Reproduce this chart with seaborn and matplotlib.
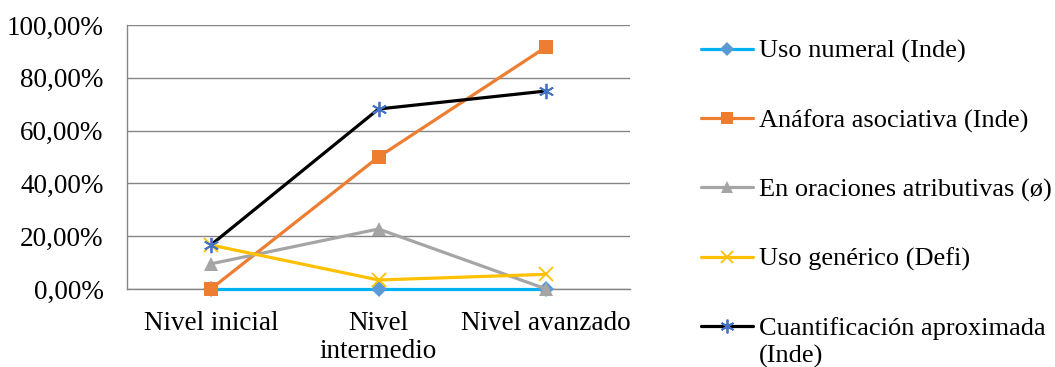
import matplotlib
matplotlib.use("Agg")
import matplotlib.pyplot as plt
from matplotlib.lines import Line2D
import seaborn as sns
import pandas as pd
from matplotlib.ticker import FuncFormatter, FixedLocator

niveles = ["Nivel inicial", "Nivel\nintermedio", "Nivel avanzado"]
series = ["Uso numeral (Inde)", "Anáfora asociativa (Inde)",
          "En oraciones atributivas (ø)", "Uso genérico (Defi)",
          "Cuantificación aproximada (Inde)"]
uso_numeral = [0.0, 0.0, 0.0]
anafora_asociativa = [0.0, 50.0, 91.67]
oraciones_atributivas = [9.52, 22.73, 0.0]
uso_generico = [16.67, 3.41, 5.56]
cuantificacion_aprox = [16.67, 68.18, 75.0]
valores = [uso_numeral, anafora_asociativa, oraciones_atributivas,
           uso_generico, cuantificacion_aprox]

line_colors = ["#00B0F0", "#ED7D31", "#A5A5A5", "#FFC000", "#000000"]
marker_colors = ["#5B9BD5", "#ED7D31", "#A5A5A5", "#FFC000", "#4472C4"]
markers = ["D", "s", "^", "x", (6, 2, 0)]
msizes = [8, 10, 10, 10, 11]

sns.set_theme(style="white")
plt.rcParams["font.family"] = ["Liberation Serif", "DejaVu Serif"]
FS = 19.5
FS_LEG = 19
LW = 2.3

rows = []
for name, vals in zip(series, valores):
    for i, v in enumerate(vals):
        rows.append({"serie": name, "pos": i, "valor": v})
df = pd.DataFrame(rows)

fig = plt.figure(figsize=(10.55, 3.67), dpi=100)
ax = fig.add_axes([127 / 1055, 1 - 289 / 367, (630 - 127) / 1055, (289 - 25) / 367])

handles = []
for name, lc, mc, mk, ms in zip(series, line_colors, marker_colors, markers, msizes):
    sub = df[df["serie"] == name]
    filled = mk in ("D", "s", "^")
    sns.lineplot(data=sub, x="pos", y="valor", ax=ax, color=lc, linewidth=LW,
                 marker=mk, markersize=ms,
                 markerfacecolor=mc if filled else "none",
                 markeredgecolor=mc, markeredgewidth=0 if filled else 1.3,
                 legend=False, zorder=3, clip_on=False)
    handles.append(Line2D([0], [0], color=lc, linewidth=LW, marker=mk,
                          markersize=ms * 0.9,
                          markerfacecolor=mc if filled else "none",
                          markeredgecolor=mc,
                          markeredgewidth=0 if filled else 1.3))

ax.set_xlim(-0.5, 2.5)
ax.set_ylim(0, 100)
ax.set_yticks([0, 20, 40, 60, 80, 100])
ax.yaxis.set_major_formatter(FuncFormatter(lambda v, p: f"{v:.2f}%".replace(".", ",")))
ax.set_xticks([0, 1, 2])
ax.set_xticklabels(niveles, linespacing=1.15)
ax.xaxis.set_minor_locator(FixedLocator([-0.5, 0.5, 1.5, 2.5]))
ax.tick_params(axis="x", which="major", length=0, pad=16, labelsize=FS, colors="black")
ax.tick_params(axis="x", which="minor", length=6, width=1, color="#868686", direction="out")
ax.tick_params(axis="y", length=0, pad=17, labelsize=FS, colors="black")
ax.set_xlabel("")
ax.set_ylabel("")
ax.grid(axis="y", color="#868686", linewidth=1)
ax.set_axisbelow(True)
for s in ["top", "right"]:
    ax.spines[s].set_visible(False)
for s in ["left", "bottom"]:
    ax.spines[s].set_color("#868686")
    ax.spines[s].set_linewidth(1)

# The last legend label wraps: keep "Cuantificación aproximada" beside its key
# and put "(Inde)" on a second line under it.
leg_labels = series[:-1] + ["Cuantificación aproximada"]
leg = fig.legend(handles, leg_labels, loc="upper left",
                 bbox_to_anchor=(690 / 1055, 1 - 29 / 367),
                 frameon=False, fontsize=FS_LEG, handlelength=2.0, handletextpad=0.2,
                 labelspacing=1.72, borderaxespad=0)
for t in leg.get_texts():
    t.set_color("black")

fig.canvas.draw()
last = leg.get_texts()[-1]
bb = last.get_window_extent().transformed(fig.transFigure.inverted())
fig.text(bb.x0, bb.y0 - 28 / 367, "(Inde)", fontsize=FS_LEG, color="black",
         ha="left", va="bottom")

fig.savefig("out.png", dpi=100)
